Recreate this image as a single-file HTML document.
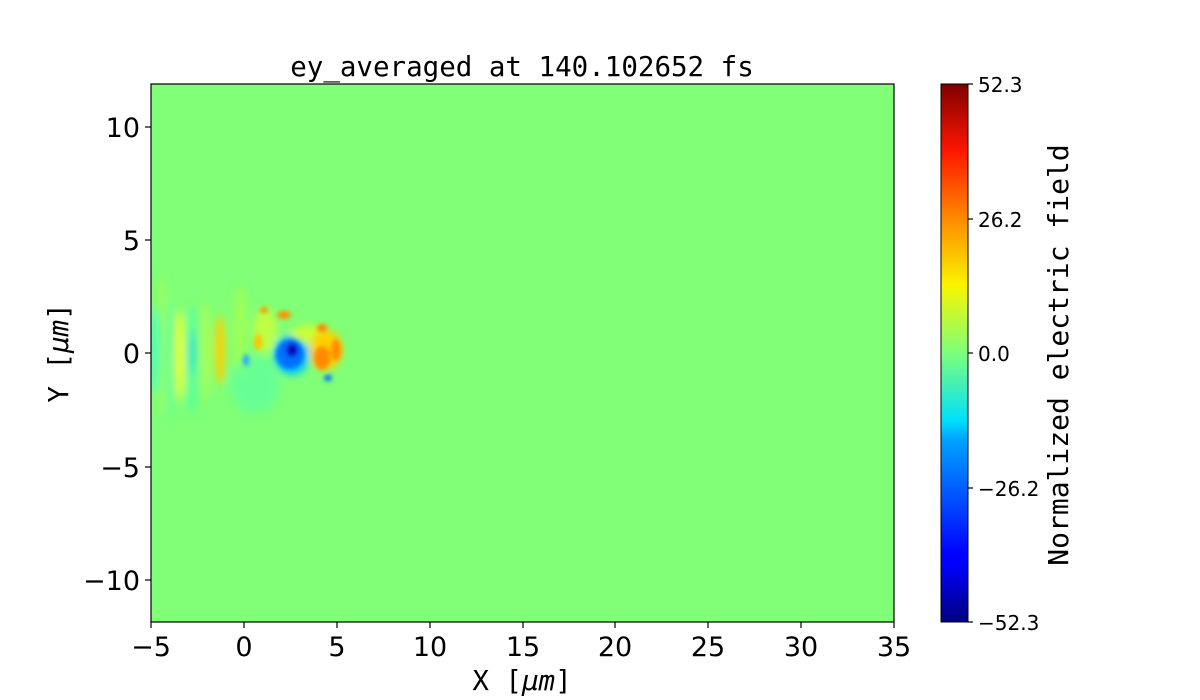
<!DOCTYPE html>
<html><head><meta charset="utf-8"><style>
html,body{margin:0;padding:0;background:#fff;width:1200px;height:700px;overflow:hidden}
text{fill:#000}
.t{font-family:"DejaVu Sans","Liberation Sans",sans-serif;font-size:27px}
.c{font-family:"DejaVu Sans","Liberation Sans",sans-serif;font-size:20px}
.m{font-family:"DejaVu Sans Mono","Liberation Mono",monospace}
</style></head><body>
<svg width="1200" height="700" viewBox="0 0 1200 700" xmlns="http://www.w3.org/2000/svg">
<defs>
<filter id="b" x="-50%" y="-50%" width="200%" height="200%"><feGaussianBlur stdDeviation="4"/></filter>
<filter id="b2" x="-50%" y="-50%" width="200%" height="200%"><feGaussianBlur stdDeviation="2.5"/></filter>
<clipPath id="cp"><rect x="151" y="84" width="743" height="538"/></clipPath>
<linearGradient id="jet" x1="0" y1="1" x2="0" y2="0">
<stop offset="0" stop-color="#00007f"/><stop offset="0.11" stop-color="#0000ff"/>
<stop offset="0.125" stop-color="#0000ff"/><stop offset="0.34" stop-color="#00a4ff"/>
<stop offset="0.375" stop-color="#00e0fb"/><stop offset="0.5" stop-color="#7dff7a"/>
<stop offset="0.625" stop-color="#f9f500"/><stop offset="0.75" stop-color="#ff8a00"/>
<stop offset="0.875" stop-color="#ff1600"/><stop offset="1" stop-color="#7f0000"/>
</linearGradient>
</defs>
<rect x="151" y="84" width="743" height="538" fill="#80ff77"/>
<g clip-path="url(#cp)">
<g filter="url(#b)">
<ellipse cx="162" cy="345" rx="8" ry="70" fill="#9dff5a" opacity="0.6"/>
<ellipse cx="155" cy="350" rx="4" ry="45" fill="#3dffc0"/>
<ellipse cx="170" cy="360" rx="5" ry="60" fill="#60ffa0" opacity="0.7"/>
<ellipse cx="180" cy="355" rx="5" ry="45" fill="#e8ff20"/>
<ellipse cx="192" cy="352" rx="3" ry="22" fill="#10b0ff"/>
<ellipse cx="192" cy="360" rx="6" ry="55" fill="#40ffb0" opacity="0.6"/>
<ellipse cx="206" cy="350" rx="5" ry="50" fill="#c0ff40" opacity="0.6"/>
<ellipse cx="220" cy="350" rx="5" ry="35" fill="#ffd000"/>
<ellipse cx="240" cy="330" rx="7" ry="45" fill="#b0ff40" opacity="0.6"/>
<ellipse cx="255" cy="385" rx="25" ry="28" fill="#50ffb0" opacity="0.5"/>
<ellipse cx="265" cy="330" rx="12" ry="22" fill="#d8ff30" opacity="0.7"/>
<ellipse cx="292" cy="355" rx="18" ry="20" fill="#00c8ff"/>
<ellipse cx="310" cy="335" rx="20" ry="10" fill="#e8ff20" opacity="0.7"/>
<ellipse cx="326" cy="350" rx="16" ry="20" fill="#ffd000"/>
</g>
<g filter="url(#b2)">
<ellipse cx="258" cy="342" rx="4" ry="8" fill="#ffc000"/>
<ellipse cx="264" cy="310" rx="4" ry="3" fill="#ff9000"/>
<ellipse cx="284" cy="315" rx="7" ry="4" fill="#ff9000"/>
<ellipse cx="322" cy="328" rx="5" ry="4" fill="#ff8000"/>
<ellipse cx="290" cy="354" rx="14" ry="15" fill="#0070ff"/>
<ellipse cx="292" cy="350" rx="6" ry="7" fill="#0000c0"/>
<ellipse cx="322" cy="358" rx="8" ry="12" fill="#ff8a00"/>
<ellipse cx="336" cy="350" rx="5" ry="11" fill="#ff8a00"/>
<ellipse cx="328" cy="378" rx="4" ry="3" fill="#0060ff"/>
<ellipse cx="246" cy="360" rx="3" ry="6" fill="#20a0ff"/>
</g>
</g>
<rect x="151" y="84" width="743" height="538" fill="none" stroke="#000" stroke-width="1.2"/>
<g stroke="#000" stroke-width="1.2">
<line x1="151" y1="622" x2="151" y2="628"/><line x1="244" y1="622" x2="244" y2="628"/><line x1="337" y1="622" x2="337" y2="628"/><line x1="430" y1="622" x2="430" y2="628"/><line x1="523" y1="622" x2="523" y2="628"/><line x1="615" y1="622" x2="615" y2="628"/><line x1="708" y1="622" x2="708" y2="628"/><line x1="801" y1="622" x2="801" y2="628"/><line x1="894" y1="622" x2="894" y2="628"/>
<line x1="145" y1="127" x2="151" y2="127"/><line x1="145" y1="240" x2="151" y2="240"/><line x1="145" y1="353" x2="151" y2="353"/><line x1="145" y1="467" x2="151" y2="467"/><line x1="145" y1="580" x2="151" y2="580"/>
<line x1="968" y1="84" x2="973" y2="84"/><line x1="968" y1="219" x2="973" y2="219"/><line x1="968" y1="353" x2="973" y2="353"/><line x1="968" y1="488" x2="973" y2="488"/><line x1="968" y1="622" x2="973" y2="622"/>
</g>
<g class="t" text-anchor="middle">
<text x="151" y="656">−5</text><text x="244" y="656">0</text><text x="337" y="656">5</text><text x="430" y="656">10</text><text x="523" y="656">15</text><text x="615" y="656">20</text><text x="708" y="656">25</text><text x="801" y="656">30</text><text x="894" y="656">35</text>
</g>
<g class="t" text-anchor="end">
<text x="140" y="137">10</text><text x="140" y="250">5</text><text x="140" y="363">0</text><text x="140" y="477">−5</text><text x="140" y="590">−10</text>
</g>
<text class="m" x="522" y="76" font-size="27.5" text-anchor="middle">ey_averaged at 140.102652 fs</text>
<text class="m" x="522" y="690" font-size="27.5" text-anchor="middle">X [<tspan font-style="italic">μm</tspan>]</text>
<text class="m" transform="translate(68,353) rotate(-90)" font-size="27.5" text-anchor="middle">Y [<tspan font-style="italic">μm</tspan>]</text>
<rect x="941" y="84" width="27" height="538" fill="url(#jet)"/>
<rect x="941" y="84" width="27" height="538" fill="none" stroke="#000" stroke-width="1"/>
<g class="c">
<text x="978" y="92">52.3</text><text x="978" y="227">26.2</text><text x="978" y="361">0.0</text><text x="978" y="496">−26.2</text><text x="978" y="630">−52.3</text>
</g>
<text class="m" transform="translate(1068,355) rotate(-90)" font-size="28" text-anchor="middle">Normalized electric field</text>
</svg>
</body></html>
